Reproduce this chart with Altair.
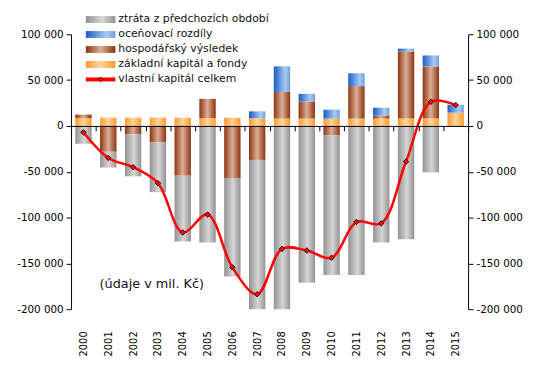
import altair as alt
import pandas as pd

years = ["2000", "2001", "2002", "2003", "2004", "2005", "2006", "2007",
         "2008", "2009", "2010", "2011", "2012", "2013", "2014", "2015"]
zakladni = [8400, 9100, 9000, 9000, 9000, 8400, 9000, 8400, 8000, 8000, 8000, 8000, 8000, 8000, 8000, 14500]
hospodarsky = [4000, -28200, -9100, -17700, -54300, 21200, -56800, -37100, 29100, 18700, -10200, 35500, 3300, 73200, 57000, -900]
oceneni = [0, 0, 0, 0, 0, 0, 0, 7500, 27900, 8300, 9700, 14000, 8600, 3200, 11900, 8600]
ztrata = [-19500, -17200, -45900, -54600, -71700, -127100, -107500, -162900, -200000, -171200, -152400, -162600, -127100, -123800, -50700, 0]
vlastni = [-7000, -34900, -45000, -62500, -116300, -96600, -154300, -183700, -134200, -136000, -143900, -104800, -106300, -38900, 26300, 22800]

series_names = ["základní kapitál a fondy", "hospodářský výsledek", "oceňovací rozdíly", "ztráta z předchozích období"]
legend_labels = ["ztráta z předchozích období", "oceňovací rozdíly", "hospodářský výsledek",
                 "základní kapitál a fondy", "vlastní kapitál celkem"]
note = "(údaje v mil. Kč)"
y_ticks = [-200000, -150000, -100000, -50000, 0, 50000, 100000]

FONT = "DejaVu Sans"

rows = []
for order, (name, vals) in enumerate(zip(series_names, [zakladni, hospodarsky, oceneni, ztrata])):
    for y, v in zip(years, vals):
        rows.append({"year": y, "series": name, "value": v, "order": order})
bars_df = pd.DataFrame(rows)
line_df = pd.DataFrame({"year": years, "value": vlastni})


def grad(edge, center, mid=0.5):
    return alt.Gradient(
        gradient="linear", x1=0, x2=1, y1=0, y2=0,
        stops=[alt.GradientStop(color=edge, offset=0),
               alt.GradientStop(color=center, offset=mid),
               alt.GradientStop(color=edge, offset=1)])


gradients = {
    "základní kapitál a fondy": grad("#ff9a2e", "#ffd59c"),
    "hospodářský výsledek": grad("#8c3410", "#dcae98"),
    "oceňovací rozdíly": alt.Gradient(
        gradient="linear", x1=0, x2=1, y1=0, y2=0,
        stops=[alt.GradientStop(color="#1a5cc8", offset=0),
               alt.GradientStop(color="#a8cbf2", offset=0.7),
               alt.GradientStop(color="#6f9fe0", offset=1)]),
    "ztráta z předchozích období": grad("#929292", "#d6d6d6", 0.55),
}

yscale = alt.Scale(domain=[-200000, 100000], nice=False, zero=False)
label_expr = "replace(replace(format(datum.value, ','), ',', ' '), '\u2212', '-')"

left_axis = alt.Axis(orient="left", values=y_ticks, labelExpr=label_expr, grid=False,
                     domainColor="black", tickColor="black", tickSize=5,
                     labelFont=FONT, labelFontSize=10.5, labelColor="black",
                     labelPadding=3, title=None)
right_axis = alt.Axis(orient="right", values=y_ticks, labelExpr=label_expr, grid=False,
                      domainColor="black", tickColor="black", tickSize=5,
                      labelFont=FONT, labelFontSize=10.5, labelColor="black",
                      labelPadding=3, title=None)
x_axis = alt.Axis(orient="bottom", offset=-186, labelAngle=270, labelPadding=203,
                  tickBand="extent", tickSize=5, domainColor="black", tickColor="black",
                  labelFont=FONT, labelFontSize=10, labelColor="black", grid=False,
                  title=None, zindex=1, labelOverlap=False)
xenc = alt.X("year:N", sort=years, axis=x_axis,
             scale=alt.Scale(paddingInner=0, paddingOuter=0))

base = alt.Chart(bars_df).transform_stack(
    stack="value", groupby=["year"], as_=["v0", "v1"],
    sort=[alt.SortField("order", "ascending")], offset="zero")

bar_layers = []
for name in series_names:
    bar_layers.append(
        base.transform_filter(alt.datum.series == name)
        .mark_bar(width=alt.RelativeBandSize(0.66), color=gradients[name])
        .encode(x=xenc,
                y=alt.Y("v0:Q", scale=yscale, axis=left_axis, title=None),
                y2="v1:Q"))

line = alt.Chart(line_df).mark_line(color="#ff0000", strokeWidth=2.5, interpolate="catmull-rom").encode(
    x=xenc, y=alt.Y("value:Q", scale=yscale, axis=left_axis, title=None))
points = alt.Chart(line_df).mark_point(shape="diamond", filled=True, fill="#e8141a", stroke="#400000",
                                       strokeWidth=1, size=30, opacity=1).encode(
    x=xenc, y=alt.Y("value:Q", scale=yscale, axis=left_axis, title=None))

# legend (drawn inside the plot, top-left)
leg_df = pd.DataFrame({"label": legend_labels, "i": list(range(len(legend_labels)))})
leg_text = alt.Chart(leg_df).transform_calculate(ypix="-15 + 15.2 * datum.i").mark_text(
    align="left", baseline="middle", font=FONT, fontSize=11, color="#111111").encode(
    x=alt.value(48), y=alt.Y("ypix:Q", scale=None), text="label:N")

swatch_order = ["ztráta z předchozích období", "oceňovací rozdíly", "hospodářský výsledek",
                "základní kapitál a fondy"]
swatches = []
for i, name in enumerate(swatch_order):
    yc = -15 + 15.2 * i
    swatches.append(
        alt.Chart(leg_df).transform_filter(alt.datum.i == i).mark_rect(color=gradients[name]).encode(
            x=alt.value(15), x2=alt.value(45), y=alt.value(yc - 3.5), y2=alt.value(yc + 3.5)))
yl = -15 + 15.2 * 4
leg_line = alt.Chart(leg_df).transform_filter(alt.datum.i == 4).mark_rule(
    color="#ff0000", strokeWidth=4).encode(x=alt.value(15), x2=alt.value(45), y=alt.value(yl))
leg_pt = alt.Chart(leg_df).transform_filter(alt.datum.i == 4).mark_point(
    shape="diamond", filled=True, fill="#e8141a", stroke="#400000", strokeWidth=1, size=20, opacity=1).encode(
    x=alt.value(30), y=alt.value(yl))

note_layer = alt.Chart(pd.DataFrame({"t": [note]})).mark_text(
    align="left", baseline="middle", font=FONT, fontSize=13, color="#111111").encode(
    x=alt.value(29), y=alt.value(253.5), text="t:N")

inner = alt.layer(*bar_layers, line, points, *swatches, leg_line, leg_pt, leg_text, note_layer)

right = alt.Chart(line_df).mark_point(opacity=0).encode(
    x=xenc, y=alt.Y("value:Q", scale=yscale, axis=right_axis, title=None))

chart = alt.layer(inner, right).resolve_scale(y="independent").properties(
    width=403, height=279,
    autosize=alt.AutoSizeParams(type="none"),
    padding={"left": 64, "top": 24, "right": 74, "bottom": 57},
).configure_view(stroke=None)

chart.save("out.html", embed_options={"renderer": "svg", "actions": False})
